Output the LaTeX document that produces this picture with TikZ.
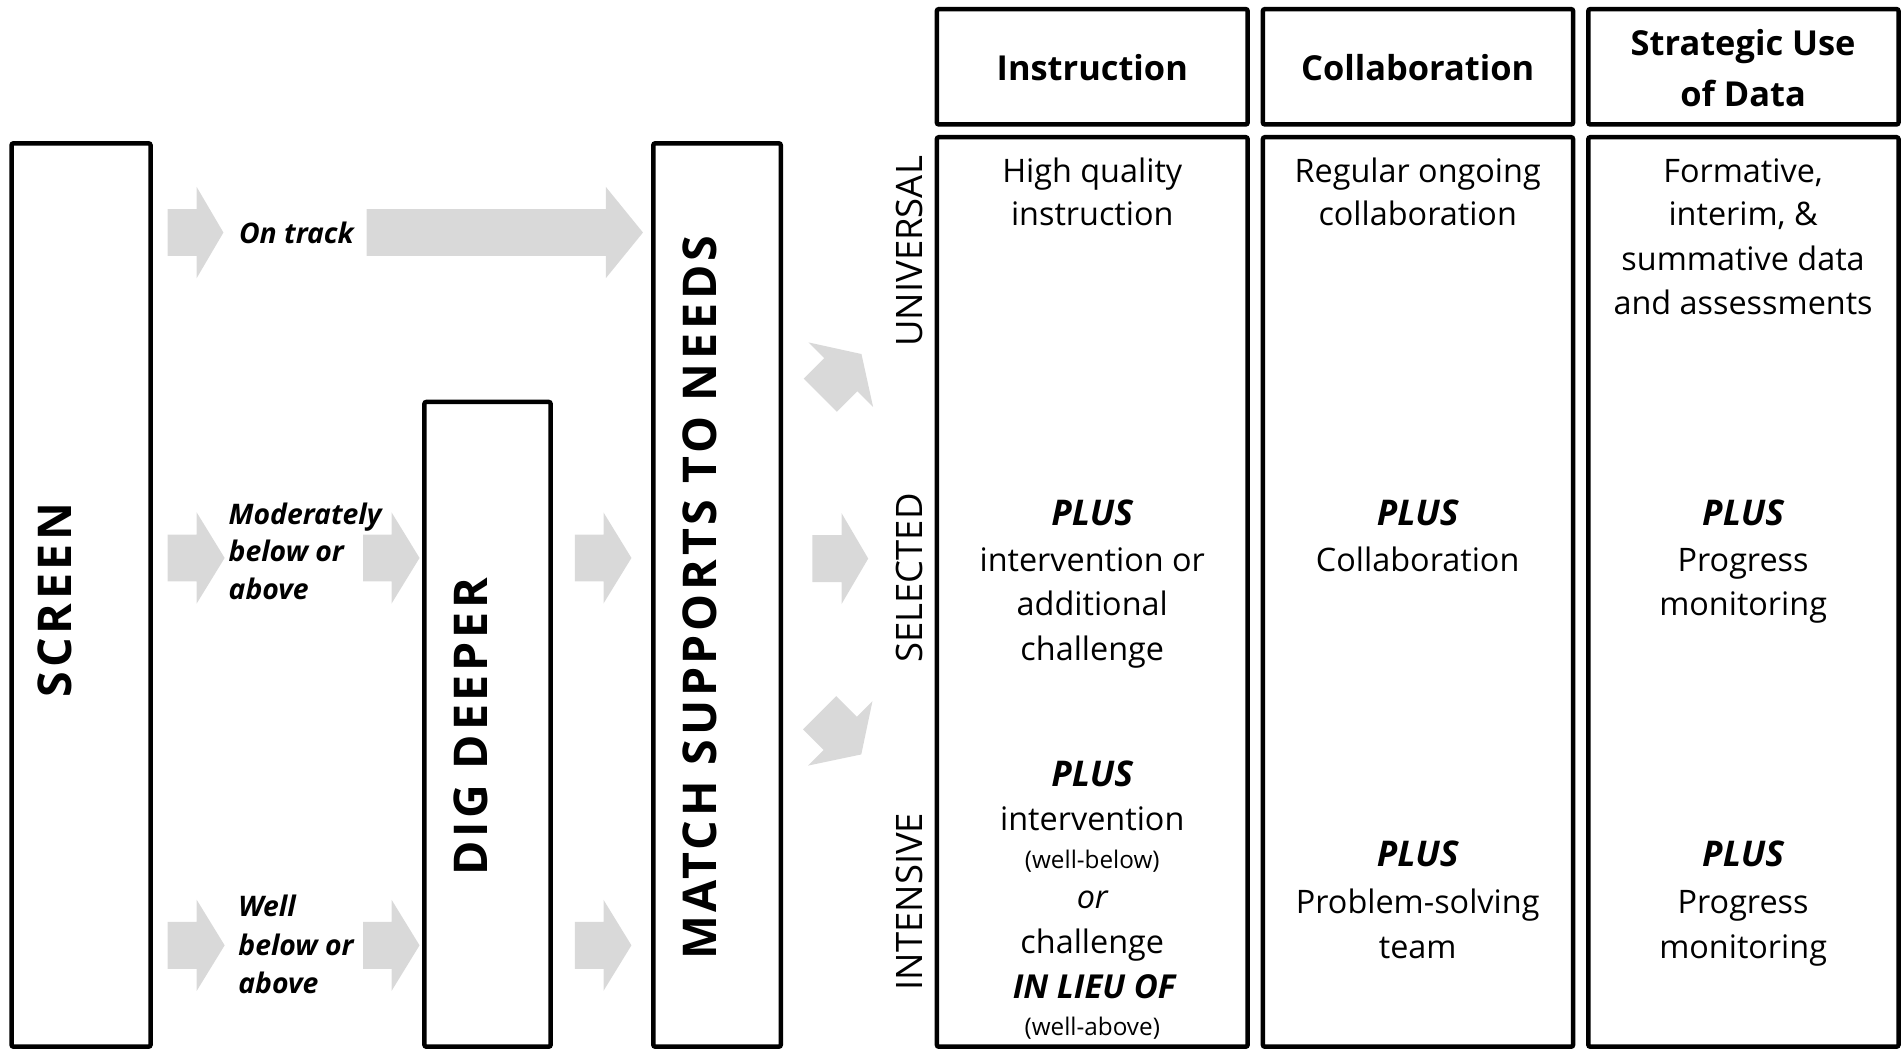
\documentclass[tikz,border=0pt]{standalone}
\usepackage{fontspec}
\setmainfont{Open Sans}
\definecolor{arrowgray}{HTML}{D9D9D9}
\newcommand\grayarrow[5]{%
  \fill[arrowgray,shift={(#1,#2)},rotate=#5]
    (0,-19.3) -- ({#3-#4},-19.3) -- ({#3-#4},-37.5) -- (#3,0)
    -- ({#3-#4},37.5) -- ({#3-#4},19.3) -- (0,19.3) -- cycle;}
\tikzset{
  box/.style={draw=black,line width=2.2pt,rounded corners=1pt},
  hdr/.style={font=\bfseries\fontsize{17}{20}\selectfont,anchor=base,inner sep=0pt},
  txt/.style={font=\fontsize{16}{20}\selectfont,anchor=base,inner sep=0pt},
  itx/.style={font=\itshape\fontsize{16}{20}\selectfont,anchor=base,inner sep=0pt},
  plus/.style={font=\bfseries\itshape\fontsize{17.5}{20}\selectfont,anchor=base,inner sep=0pt},
  lieu/.style={font=\bfseries\itshape\fontsize{16.3}{20}\selectfont,anchor=base,inner sep=0pt},
  smalltxt/.style={font=\fontsize{12}{14}\selectfont,anchor=base,inner sep=0pt},
  lab/.style={font=\bfseries\itshape\fontsize{14}{16}\selectfont,anchor=base west,inner sep=0pt},
  tier/.style={font=\fontsize{18}{20}\selectfont,rotate=90,inner sep=0pt},
  big/.style={font=\bfseries\fontsize{23}{26}\selectfont\addfontfeature{LetterSpace=8},rotate=90,inner sep=0pt},
}
\begin{document}
\begin{tikzpicture}[x=0.6pt,y=-0.6pt]
\useasboundingbox (0,0) rectangle (1568,866);
% arrows
\grayarrow{138}{191.5}{46}{22}{0}
\grayarrow{302}{191.5}{227.5}{30.5}{0}
\grayarrow{138}{459.5}{47}{23}{0}
\grayarrow{299}{459.5}{46.5}{23}{0}
\grayarrow{473.5}{459.5}{46.5}{23}{0}
\grayarrow{138}{778.5}{47}{23}{0}
\grayarrow{299}{778.5}{46.5}{23}{0}
\grayarrow{473.5}{778.5}{46.5}{23}{0}
\grayarrow{669}{460}{46}{22}{0}
\grayarrow{675.5}{325.5}{48}{24}{45}
\grayarrow{675}{587}{48.5}{24.5}{-45}
% left boxes
\draw[box] (9.5,118) rectangle (124,862);
\draw[box] (349.5,331) rectangle (453.5,862);
\draw[box] (538,118) rectangle (643,862);
\node[big] (screen) at (45.5,494) {SCREEN};
\node[big] (dig) at (387.5,598.5) {DIG DEEPER};
\node[big] (match) at (576.5,492.5) {MATCH SUPPORTS TO NEEDS};
% labels
\node[lab] (ontrack) at (196.5,200.4) {On track};
\node[lab] (mod1) at (188,431.6) {Moderately};
\node[lab] (mod2) at (188,462.8) {below or};
\node[lab] (mod3) at (188,493.8) {above};
\node[lab] (well1) at (196,754.8) {Well};
\node[lab] (well2) at (196,786.6) {below or};
\node[lab] (well3) at (196,818.2) {above};
% tier labels
\node[tier] (universal) at (749,207) {UNIVERSAL};
\node[tier] (selected) at (749,476) {SELECTED};
\node[tier] (intensive) at (749,742.5) {INTENSIVE};
% header boxes
\draw[box] (771.5,7.5) rectangle (1027.5,102.5);
\draw[box] (1040,7.5) rectangle (1295.5,102.5);
\draw[box] (1308,7.5) rectangle (1563.5,102.5);
\draw[box] (771.5,113) rectangle (1027.5,862);
\draw[box] (1040,113) rectangle (1295.5,862);
\draw[box] (1308,113) rectangle (1563.5,862);
\node[hdr] (h1) at (899.5,66.5) {Instruction};
\node[hdr] (h2) at (1167.5,66.5) {Collaboration};
\node[hdr] (h3a) at (1435.5,45.5) {Strategic Use};
\node[hdr] (h3b) at (1435.5,87.5) {of Data};
% universal row
\node[txt] (u1a) at (899.5,150) {High quality};
\node[txt] (u1b) at (899.5,186) {instruction};
\node[txt] (u2a) at (1167.5,150) {Regular ongoing};
\node[txt] (u2b) at (1167.5,186) {collaboration};
\node[txt] (u3a) at (1435.5,150) {Formative,};
\node[txt] (u3b) at (1435.5,186) {interim, \&};
\node[txt] (u3c) at (1435.5,222.5) {summative data};
\node[txt] (u3d) at (1435.5,259) {and assessments};
% selected row
\node[plus] (s1p) at (899.5,432.5) {PLUS};
\node[txt] (s1a) at (899.5,470.5) {intervention or};
\node[txt] (s1b) at (899.5,507) {additional};
\node[txt] (s1c) at (899.5,544) {challenge};
\node[plus] (s2p) at (1167.5,432.5) {PLUS};
\node[txt] (s2a) at (1167.5,470.5) {Collaboration};
\node[plus] (s3p) at (1435.5,432.5) {PLUS};
\node[txt] (s3a) at (1435.5,470.5) {Progress};
\node[txt] (s3b) at (1435.5,507) {monitoring};
% intensive row
\node[plus] (i1p) at (899.5,648) {PLUS};
\node[txt] (i1a) at (899.5,683.6) {intervention};
\node[smalltxt] (i1b) at (899.5,715.2) {(well-below)};
\node[itx] (i1c) at (899.5,748.1) {or};
\node[txt] (i1d) at (899.5,785.2) {challenge};
\node[lieu] (i1e) at (901,822.3) {IN LIEU OF};
\node[smalltxt] (i1f) at (899.5,852.5) {(well-above)};
\node[plus] (i2p) at (1167.5,713.8) {PLUS};
\node[txt] (i2a) at (1167.5,752.3) {Problem-solving};
\node[txt] (i2b) at (1167.5,789.4) {team};
\node[plus] (i3p) at (1435.5,713.8) {PLUS};
\node[txt] (i3a) at (1435.5,752.3) {Progress};
\node[txt] (i3b) at (1435.5,789.4) {monitoring};
\end{tikzpicture}
\end{document}
